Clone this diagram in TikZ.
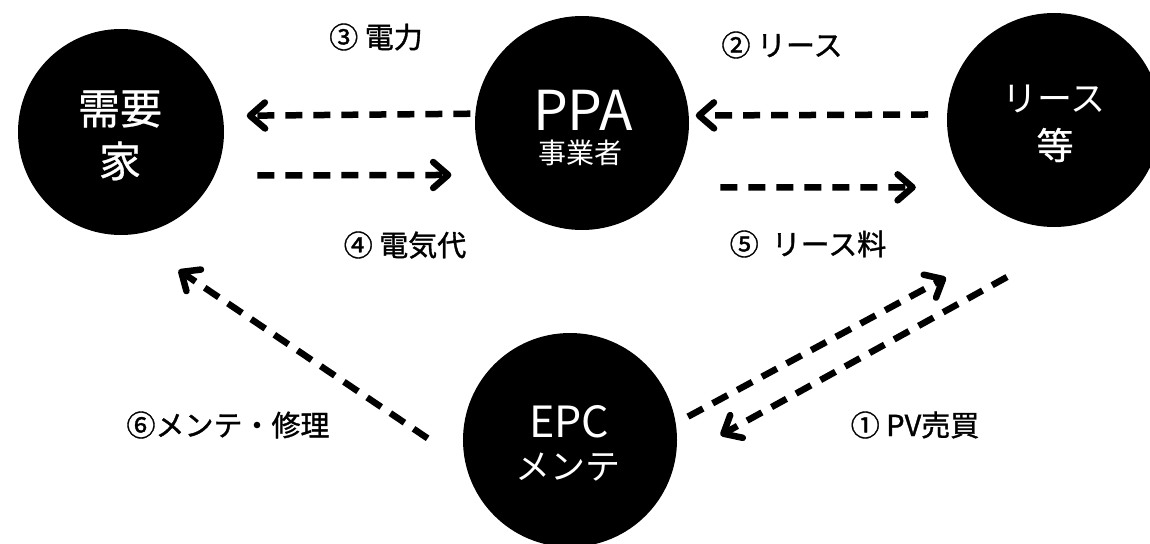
\documentclass[tikz,border=0pt]{standalone}
\usepackage{fontspec}
\setmainfont{Noto Sans CJK JP}
\newfontface\lblfont{Noto Sans CJK JP}[FakeBold=1.2]
\newfontface\medfont{Noto Sans CJK JP}[FakeBold=0.7]
\usetikzlibrary{arrows.meta}
\tikzset{
  party/.style={circle, fill=black, inner sep=0pt, outer sep=0pt, minimum size=#1},
  intext/.style={text=white, inner sep=0pt, font=\fontsize{#1}{#1}\selectfont},
  lbl/.style={text=black, inner sep=0pt, font=\lblfont\fontsize{29}{29}\selectfont},
  flow/.style={line width=6.5pt, dash pattern=on 17pt off 11pt,
    -{Straight Barb[length=15pt,width=26pt,line cap=round,line join=round]}}
}
\begin{document}
\begin{tikzpicture}[x=1pt,y=-1pt]
\fill[white] (0,0) rectangle (1150,543);
\useasboundingbox (0,0) rectangle (1150,543);
% parties
\node[party=206pt] (juyo) at (121,132) {};
\node[party=214pt] (ppa) at (582,123) {};
\node[party=214pt] (lease) at (1054,120) {};
\node[party=214pt] (epc) at (570,440) {};
% texts in circles
\node[intext=42, font=\medfont\fontsize{42}{42}\selectfont] (t1a) at (120,109) {需要};
\node[intext=42, font=\medfont\fontsize{42}{42}\selectfont] (t1b) at (120,161) {家};
\node[intext=55] (t2a) at (583,110) {PPA};
\node[intext=28] (t2b) at (580,153) {事業者};
\node[intext=35] (t3a) at (1054,99) {リース};
\node[intext=37, font=\medfont\fontsize{37}{37}\selectfont] (t3b) at (1055,145) {等};
\node[intext=43] (t4a) at (569,422) {EPC};
\node[intext=35] (t4b) at (568,467) {メンテ};
% labels
\node[lbl] (l3) at (376,37) {③ 電力};
\node[lbl] (l2) at (782,45) {② リース};
\node[lbl] (l4) at (405,245) {④ 電気代};
\node[lbl] (l5) at (808,244) {⑤\ \ リース料};
\node[lbl] (l1) at (915,425) {① PV売買};
\node[lbl] (l6) at (228,425) {⑥メンテ・修理};
% connectors
\draw[flow, shorten <=5pt, shorten >=24pt] (ppa.175.7) -- (juyo.9.5);
\draw[flow, shorten <=43pt, shorten >=37pt] (juyo.-25.3) -- (ppa.209.7);
\draw[flow, shorten <=19pt, shorten >=7pt] (lease.177.3) -- (ppa.4.3);
\draw[flow, shorten <=53pt, shorten >=55pt] (ppa.-37.4) -- (lease.219.5);
\draw[flow, shorten <=14pt, shorten >=108pt] (epc.9.85) -- (lease.263.6);
\coordinate (pvs) at (1007,277);
\draw[flow, shorten >=52pt] (pvs) -- (epc.-11);
\draw[flow, shorten <=46pt, shorten >=63pt] (epc.193.3) -- (juyo.273.5);
\end{tikzpicture}
\end{document}
